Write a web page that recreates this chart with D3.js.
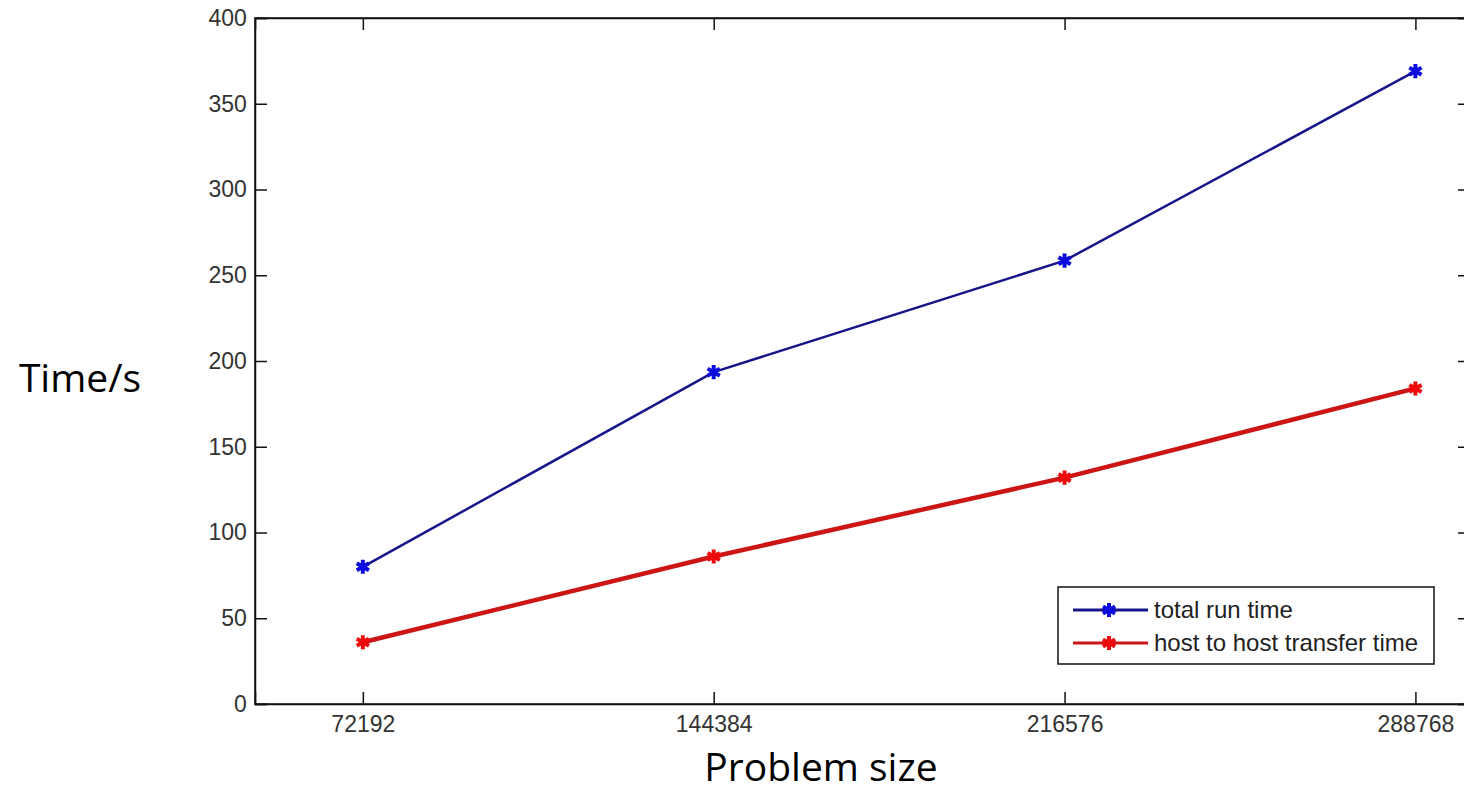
<html>
<head>
<script src="https://cdnjs.cloudflare.com/ajax/libs/d3/7.8.5/d3.min.js"></script>
<style>
  body { margin: 0; background: #fff; }
  svg { display: block; }
</style>
</head>
<body>
<script>
var problemSize = [72192, 144384, 216576, 288768];
var totalRunTime = [80, 193.5, 258.5, 369];
var hostTransferTime = [36, 86, 132, 184];
var seriesNames = ["total run time", "host to host transfer time"];
var yTicks = [0, 50, 100, 150, 200, 250, 300, 350, 400];

var W = 1464, H = 800;
var margin = {left: 255, top: 18, right: -6, bottom: 96};

var svg = d3.select("body").append("svg")
    .attr("width", W).attr("height", H);

var x = d3.scaleLinear().domain([50000, 300000]).range([margin.left, W - margin.right]);
var y = d3.scaleLinear().domain([0, 400]).range([H - margin.bottom, margin.top]);

var tickFont = "Liberation Sans, Arial, sans-serif";
var titleFont = "'Open Sans', Lato, sans-serif";

// frame
svg.append("rect")
    .attr("x", x.range()[0]).attr("y", y.range()[1])
    .attr("width", x.range()[1] - x.range()[0])
    .attr("height", y.range()[0] - y.range()[1])
    .attr("fill", "none").attr("stroke", "#111").attr("stroke-width", 1.5);

// axes with inward ticks, like the matlab box
var xAxis = d3.axisBottom(x).tickValues(problemSize).tickSize(-12).tickPadding(12)
    .tickFormat(d3.format("d"));
var yAxis = d3.axisLeft(y).tickValues(yTicks).tickSize(-12).tickPadding(22);

var gx = svg.append("g").attr("transform", "translate(0," + y.range()[0] + ")").call(xAxis);
var gy = svg.append("g").attr("transform", "translate(" + x.range()[0] + ",0)").call(yAxis);
svg.append("g").attr("transform", "translate(0," + y.range()[1] + ")")
    .call(d3.axisTop(x).tickValues(problemSize).tickSize(-12).tickFormat(""));
svg.append("g").attr("transform", "translate(" + x.range()[1] + ",0)")
    .call(d3.axisRight(y).tickValues(yTicks).tickSize(-12).tickFormat(""));

svg.selectAll(".domain").attr("stroke", "#111").attr("stroke-width", 1.5);
svg.selectAll(".tick line").attr("stroke", "#111").attr("stroke-width", 1.5);
svg.selectAll(".tick text")
    .attr("font-family", tickFont).attr("font-size", 23).attr("fill", "#333");
gx.selectAll(".tick text").attr("dy", "0.71em");
gy.selectAll(".tick text").attr("dx", "0.6em");

// series
var series = [
  {name: seriesNames[0], values: totalRunTime, line: "#16168a", mark: "#0b0be0", width: 2.5},
  {name: seriesNames[1], values: hostTransferTime, line: "#cc1515", mark: "#ee0a0a", width: 4.5}
];

var line = d3.line()
    .x(function (d, i) { return x(problemSize[i]); })
    .y(function (d) { return y(d); });

var star = d3.symbol().type(d3.symbolAsterisk).size(140);

series.forEach(function (s) {
    svg.append("path")
        .attr("d", line(s.values))
        .attr("fill", "none")
        .attr("stroke", s.line)
        .attr("stroke-width", s.width)
        .attr("stroke-linejoin", "round");
    svg.selectAll(null)
        .data(s.values)
        .enter()
        .append("path")
        .attr("transform", function (d, i) { return "translate(" + x(problemSize[i]) + "," + y(d) + ")"; })
        .attr("d", star)
        .attr("fill", "none")
        .attr("stroke", s.mark)
        .attr("stroke-width", 4);
});

// legend
var legend = svg.append("g").attr("transform", "translate(1058,587)");
legend.append("rect")
    .attr("width", 376).attr("height", 77)
    .attr("fill", "#fff").attr("stroke", "#111").attr("stroke-width", 1.5);

series.forEach(function (s, i) {
    var ly = 23 + i * 33;
    legend.append("line")
        .attr("x1", 15).attr("x2", 90).attr("y1", ly).attr("y2", ly)
        .attr("stroke", s.line).attr("stroke-width", 3);
    legend.append("path")
        .attr("transform", "translate(51," + ly + ")")
        .attr("d", star)
        .attr("fill", "none").attr("stroke", s.mark).attr("stroke-width", 4);
    legend.append("text")
        .attr("x", 96).attr("y", ly).attr("dy", "0.35em")
        .attr("font-family", tickFont).attr("font-size", 24).attr("fill", "#222")
        .text(s.name);
});

// axis titles
svg.append("text")
    .attr("x", 80).attr("y", 392)
    .attr("text-anchor", "middle")
    .attr("font-family", titleFont).attr("font-size", 39)
    .attr("fill", "#000")
    .text("Time/s");

svg.append("text")
    .attr("x", 821).attr("y", 781)
    .attr("text-anchor", "middle")
    .attr("font-family", titleFont).attr("font-size", 39)
    .attr("fill", "#000")
    .text("Problem size");
</script>
</body>
</html>
